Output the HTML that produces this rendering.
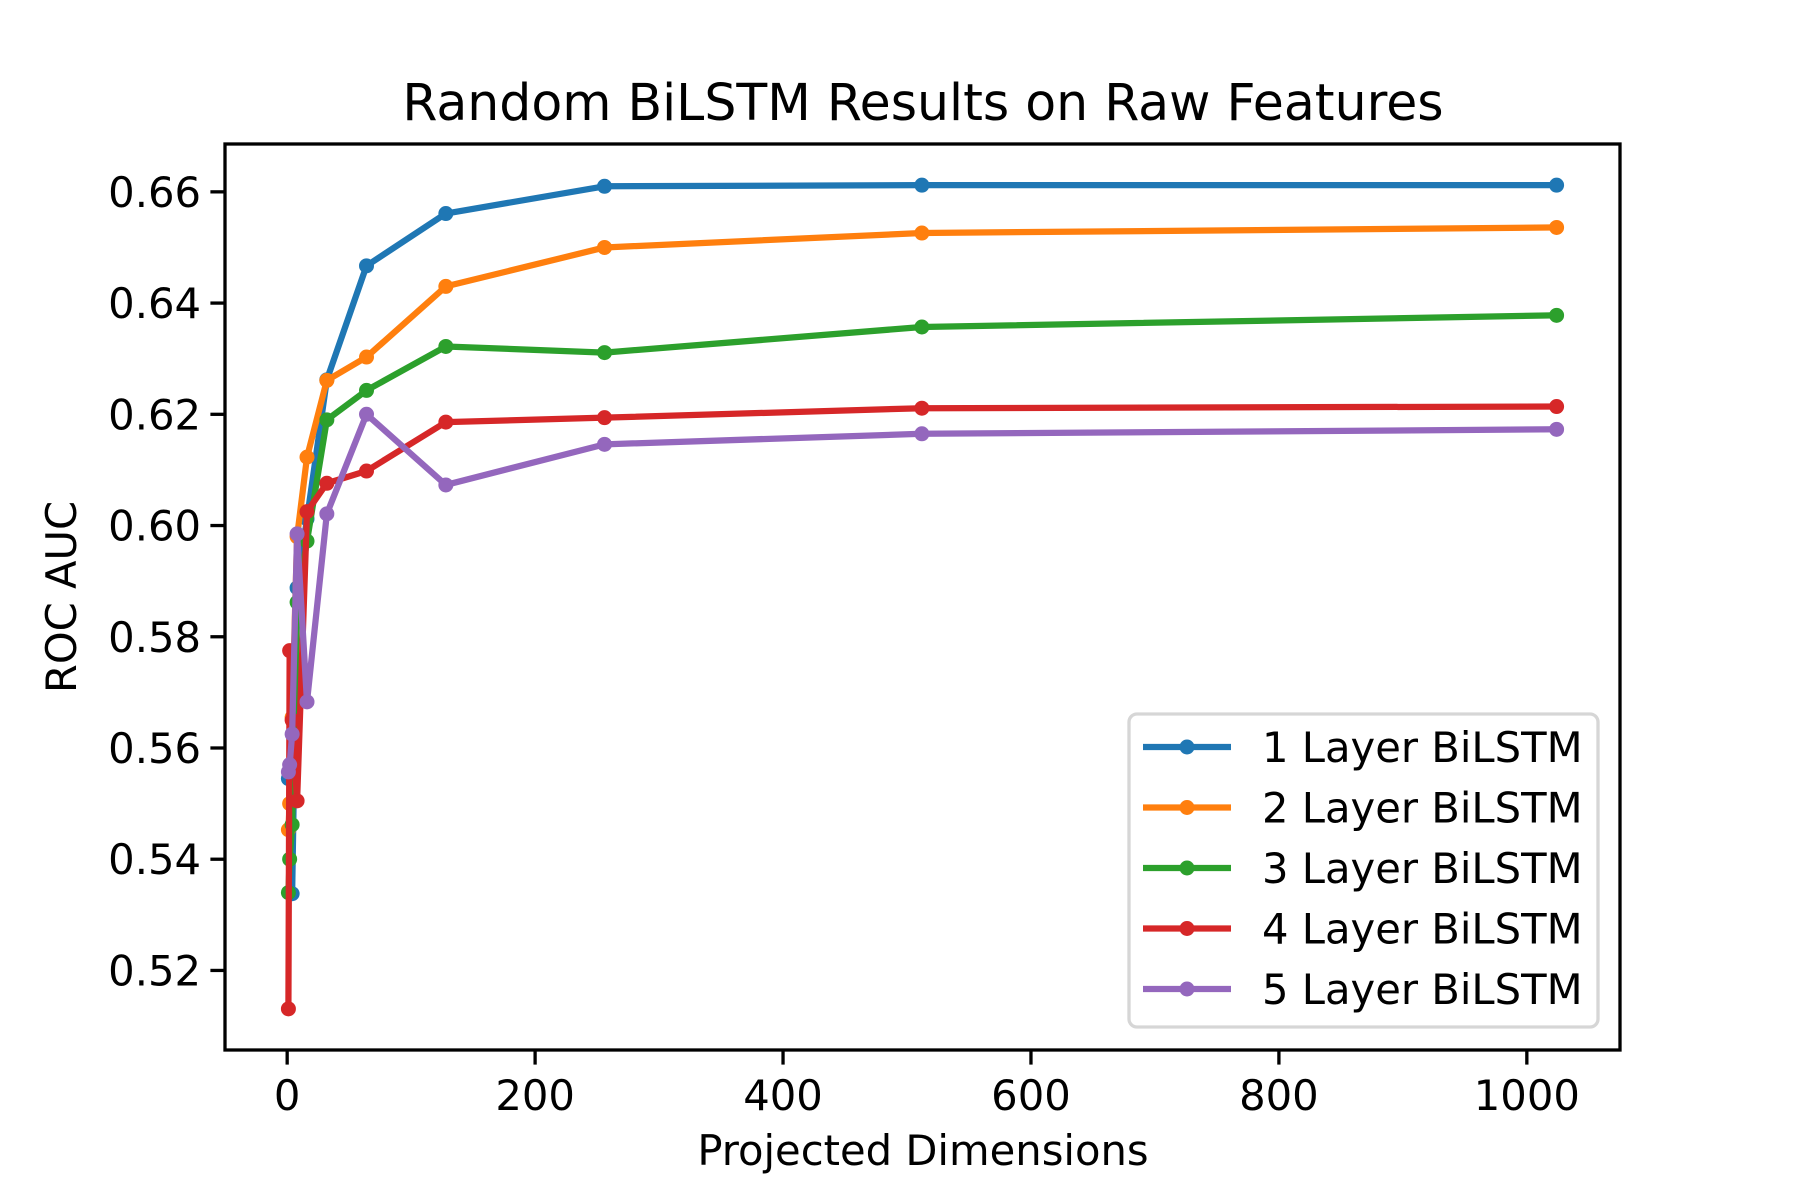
<!DOCTYPE html>
<html><head><meta charset="utf-8"><style>
html,body{margin:0;padding:0;background:#fff;}
svg{display:block;font-family:"DejaVu Sans","Liberation Sans",sans-serif;}
</style></head><body>
<svg id="chart" width="1800" height="1200" viewBox="0 0 1800 1200" xmlns="http://www.w3.org/2000/svg">
<rect width="1800" height="1200" fill="#fff"/>
<text x="923" y="120" font-size="50.5" text-anchor="middle">Random BiLSTM Results on Raw Features</text>
<text x="923" y="1165" font-size="41.7" text-anchor="middle">Projected Dimensions</text>
<text x="0" y="0" font-size="41.7" text-anchor="middle" transform="translate(76,597) rotate(-90)">ROC AUC</text>
<g id="plot"></g>
</svg>
<script>
const xValues = [1, 2, 4, 8, 16, 32, 64, 128, 256, 512, 1024];
const seriesNames = ["1 Layer BiLSTM","2 Layer BiLSTM","3 Layer BiLSTM","4 Layer BiLSTM","5 Layer BiLSTM"];
const layer1 = [0.5545, 0.5550, 0.5338, 0.5888, 0.6012, 0.6262, 0.6467, 0.6561, 0.6610, 0.6612, 0.6612];
const layer2 = [0.5453, 0.5500, 0.5655, 0.5980, 0.6123, 0.6261, 0.6303, 0.6430, 0.6500, 0.6526, 0.6536];
const layer3 = [0.5340, 0.5400, 0.5462, 0.5862, 0.5972, 0.6190, 0.6243, 0.6322, 0.6311, 0.6357, 0.6378];
const layer4 = [0.5131, 0.5775, 0.5650, 0.5505, 0.6025, 0.6076, 0.6098, 0.6186, 0.6194, 0.6211, 0.6214];
const layer5 = [0.5557, 0.5570, 0.5625, 0.5985, 0.5683, 0.6021, 0.6200, 0.6073, 0.6146, 0.6165, 0.6173];
const xTicks = [0, 200, 400, 600, 800, 1000];
const yTicks = [0.52, 0.54, 0.56, 0.58, 0.60, 0.62, 0.64, 0.66];
const yTickLabels = ["0.52","0.54","0.56","0.58","0.60","0.62","0.64","0.66"];

const series = [layer1, layer2, layer3, layer4, layer5];
const colors = ["#1f77b4","#ff7f0e","#2ca02c","#d62728","#9467bd"];
const L=225, R=1620, T=144, B=1050;
const NS="http://www.w3.org/2000/svg";
const allX = xValues, allY = [].concat(...series);
const xmin0=Math.min(...allX), xmax0=Math.max(...allX), ymin0=Math.min(...allY), ymax0=Math.max(...allY);
const xm=(xmax0-xmin0)*0.05, ym=(ymax0-ymin0)*0.05;
const xlo=xmin0-xm, xhi=xmax0+xm, ylo=ymin0-ym, yhi=ymax0+ym;
function sx(v){return L+(v-xlo)/(xhi-xlo)*(R-L);}
function sy(v){return B-(v-ylo)/(yhi-ylo)*(B-T);}
const plot=document.getElementById('plot');
function mk(tag,attrs,parent){const e=document.createElementNS(NS,tag);for(const k in attrs)e.setAttribute(k,attrs[k]);(parent||plot).appendChild(e);return e;}

series.forEach((s,i)=>{
  const g=mk('g',{});
  
  
  const pts=s.map((v,j)=>sx(xValues[j]).toFixed(2)+','+sy(v).toFixed(2)).join(' ');
  const pl=mk('polyline',{points:pts,fill:'none',stroke:colors[i],'stroke-width':6.25,'stroke-linejoin':'round','stroke-linecap':'square'},g);
  
  
  s.forEach((v,j)=>{
    const c=mk('circle',{cx:sx(xValues[j]),cy:sy(v),r:7.5,fill:colors[i]},g);
    
    
  });
});

const frame=mk('rect',{x:L,y:T,width:R-L,height:B-T,fill:'none',stroke:'#000','stroke-width':3.3});



xTicks.forEach(t=>{
  const x=sx(t);
  const tk=mk('line',{x1:x,x2:x,y1:B,y2:B+14.6,stroke:'#000','stroke-width':3.3});
  
  
  const tx=mk('text',{x:x,y:B+60,'font-size':41.7,'text-anchor':'middle'});
  tx.textContent=String(t);
  
  
});
yTicks.forEach((t,i)=>{
  const y=sy(t);
  const tk=mk('line',{x1:L-14.6,x2:L,y1:y,y2:y,stroke:'#000','stroke-width':3.3});
  
  
  const tx=mk('text',{x:L-24,y:y+15,'font-size':41.7,'text-anchor':'end'});
  tx.textContent=yTickLabels[i];
  
  
});

const lg=mk('g',{});


const box=mk('rect',{x:1129,y:714,width:469,height:313,rx:8,fill:'#fff','fill-opacity':0.8,stroke:'#d6d6d6','stroke-width':3.3},lg);


seriesNames.forEach((n,i)=>{
  const y=747+i*60.5;
  const eg=mk('g',{},lg);
  
  
  mk('line',{x1:1143,x2:1231,y1:y,y2:y,stroke:colors[i],'stroke-width':6.25},eg);
  mk('circle',{cx:1187,cy:y,r:7.5,fill:colors[i]},eg);
  const t=mk('text',{x:1262,y:y+15,'font-size':41.7},eg);
  t.textContent=n;
});
</script>
</body></html>
